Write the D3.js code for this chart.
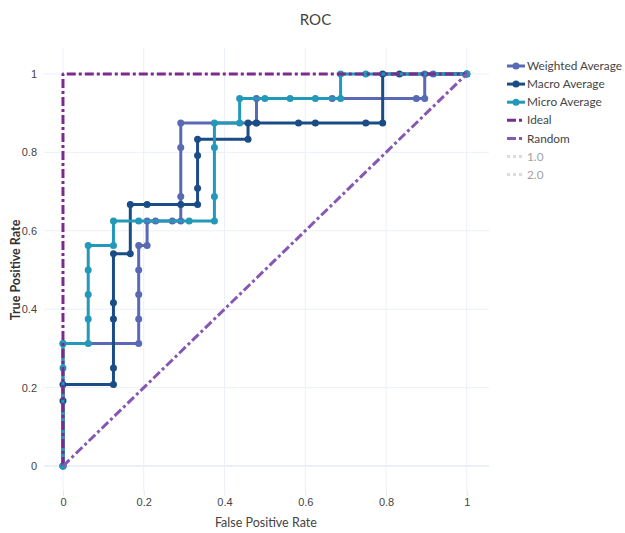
<!DOCTYPE html>
<html>
<head>
<meta charset="utf-8">
<script src="https://cdn.jsdelivr.net/npm/d3@7.9.0/dist/d3.min.js"></script>
<style>
  body { margin: 0; background: #fff; }
  svg { font-family: Lato, 'Open Sans', sans-serif; }
</style>
</head>
<body>
<div id="chart"></div>
<script>
// ROC curve points
const weightedFpr = [0, 0, 0.1875, 0.1875, 0.1875, 0.1875, 0.1875, 0.2083, 0.2083, 0.2292, 0.2708, 0.2917, 0.2917, 0.2917, 0.2917, 0.4792, 0.4792, 0.6667, 0.875, 0.8958, 0.8958, 0.9167, 1];
const weightedTpr = [0, 0.3125, 0.3125, 0.375, 0.4375, 0.5, 0.5625, 0.5625, 0.625, 0.625, 0.625, 0.625, 0.6875, 0.8125, 0.875, 0.875, 0.9375, 0.9375, 0.9375, 0.9375, 1, 1, 1];

const macroFpr = [0, 0, 0, 0.125, 0.125, 0.125, 0.125, 0.125, 0.1667, 0.1667, 0.2083, 0.2917, 0.3333, 0.3333, 0.3333, 0.3333, 0.4583, 0.4583, 0.4792, 0.5833, 0.625, 0.75, 0.7917, 0.7917, 0.8333, 1];
const macroTpr = [0, 0.1667, 0.2083, 0.2083, 0.25, 0.375, 0.4167, 0.5417, 0.5417, 0.6667, 0.6667, 0.6667, 0.6667, 0.7083, 0.7917, 0.8333, 0.8333, 0.875, 0.875, 0.875, 0.875, 0.875, 0.875, 1, 1, 1];

const microFpr = [0, 0, 0, 0.0625, 0.0625, 0.0625, 0.0625, 0.0625, 0.125, 0.125, 0.1875, 0.3125, 0.375, 0.375, 0.375, 0.375, 0.4375, 0.4375, 0.5, 0.5625, 0.625, 0.6875, 0.6875, 0.75, 1];
const microTpr = [0, 0.25, 0.3125, 0.3125, 0.375, 0.4375, 0.5, 0.5625, 0.5625, 0.625, 0.625, 0.625, 0.625, 0.6875, 0.8125, 0.875, 0.875, 0.9375, 0.9375, 0.9375, 0.9375, 0.9375, 1, 1, 1];

const idealFpr = [0, 0, 1];
const idealTpr = [0, 1, 1];
const randomFpr = [0, 1];
const randomTpr = [0, 1];

const legendNames = ['Weighted Average', 'Macro Average', 'Micro Average', 'Ideal', 'Random', '1.0', '2.0'];
const tickValues = [0, 0.2, 0.4, 0.6, 0.8, 1];

const toPoints = (xs, ys) => xs.map((x, i) => ({ x, y: ys[i] }));

const series = [
    { name: 'Weighted Average', pts: toPoints(weightedFpr, weightedTpr), color: '#5a69b5', dash: null, markers: true },
    { name: 'Macro Average', pts: toPoints(macroFpr, macroTpr), color: '#1a4c86', dash: null, markers: true },
    { name: 'Micro Average', pts: toPoints(microFpr, microTpr), color: '#2299b8', dash: null, markers: true },
    { name: 'Ideal', pts: toPoints(idealFpr, idealTpr), color: '#7c2a8c', dash: '9,3,3,3', markers: false },
    { name: 'Random', pts: toPoints(randomFpr, randomTpr), color: '#8657b3', dash: '9,3,3,3', markers: false }
];

const width = 625;
const height = 533;
const plot = { left: 44, right: 489, top: 48, bottom: 490 };

const svg = d3.select('#chart')
    .append('svg')
    .attr('width', width)
    .attr('height', height);

const x = d3.scaleLinear().domain([-0.047, 1.055]).range([plot.left, plot.right]);
const y = d3.scaleLinear().domain([-0.061, 1.066]).range([plot.bottom, plot.top]);

// gridlines
const grid = svg.append('g').attr('class', 'grid');
grid.selectAll('line.v')
    .data(tickValues)
    .enter()
    .append('line')
    .attr('class', 'v')
    .attr('x1', d => x(d)).attr('x2', d => x(d))
    .attr('y1', plot.top).attr('y2', plot.bottom)
    .attr('stroke', '#ebf0f8')
    .attr('stroke-width', 1);
grid.selectAll('line.h')
    .data(tickValues)
    .enter()
    .append('line')
    .attr('class', 'h')
    .attr('x1', plot.left).attr('x2', plot.right)
    .attr('y1', d => y(d)).attr('y2', d => y(d))
    .attr('stroke', '#ebf0f8')
    .attr('stroke-width', d => d === 0 ? 2 : 1);

// x axis
const xAxis = svg.append('g')
    .attr('transform', `translate(0, ${plot.bottom})`)
    .call(d3.axisBottom(x).tickValues(tickValues).tickFormat(d3.format('~g')).tickSize(6).tickPadding(2));
xAxis.select('.domain').remove();
xAxis.selectAll('.tick line').attr('stroke', '#e3e9f3');
xAxis.selectAll('.tick text').attr('fill', '#444').attr('font-size', '11px');

// y axis
const yAxis = svg.append('g')
    .attr('transform', `translate(${plot.left}, 0)`)
    .call(d3.axisLeft(y).tickValues(tickValues).tickFormat(d3.format('~g')).tickSize(0).tickPadding(7));
yAxis.select('.domain').remove();
yAxis.selectAll('.tick text').attr('fill', '#444').attr('font-size', '11px');

svg.append('text')
    .attr('x', (x(0) + x(1)) / 2 + 1)
    .attr('y', 527)
    .attr('text-anchor', 'middle')
    .attr('font-size', '12.5px')
    .attr('fill', '#444')
    .text('False Positive Rate');

svg.append('text')
    .attr('transform', `translate(20, ${(y(0) + y(1)) / 2}) rotate(-90)`)
    .attr('text-anchor', 'middle')
    .attr('font-size', '12.5px')
    .attr('font-weight', 700)
    .attr('fill', '#333')
    .text('True Positive Rate');

svg.append('text')
    .attr('x', width / 2 + 3)
    .attr('y', 25)
    .attr('text-anchor', 'middle')
    .attr('font-size', '15px')
    .attr('fill', '#444')
    .text('ROC');

// curves
const line = d3.line().x(d => x(d.x)).y(d => y(d.y));
const traces = svg.append('g').attr('class', 'traces');

series.forEach(s => {
    const g = traces.append('g');
    g.append('path')
        .datum(s.pts)
        .attr('d', line)
        .attr('fill', 'none')
        .attr('stroke', s.color)
        .attr('stroke-width', 3)
        .attr('stroke-dasharray', s.dash)
        .attr('stroke-linejoin', 'round');
    if (s.markers) {
        g.selectAll('circle')
            .data(s.pts)
            .enter()
            .append('circle')
            .attr('cx', d => x(d.x))
            .attr('cy', d => y(d.y))
            .attr('r', 3.5)
            .attr('fill', s.color);
    }
});

// legend
const legend = svg.append('g')
    .attr('class', 'legend')
    .attr('transform', 'translate(507, 66)');

const legendItem = legend.selectAll('.legend-item')
    .data(legendNames)
    .enter()
    .append('g')
    .attr('class', 'legend-item')
    .attr('transform', (d, i) => `translate(0, ${i * 18.1})`)
    .attr('opacity', (d, i) => i < series.length ? 1 : 0.5);

legendItem.append('line')
    .attr('x1', 0).attr('x2', 18)
    .attr('y1', 0).attr('y2', 0)
    .attr('stroke', (d, i) => i < series.length ? series[i].color : '#bbb')
    .attr('stroke-width', 3)
    .attr('stroke-dasharray', (d, i) => i < series.length ? series[i].dash : '3,3');

legendItem.filter((d, i) => i < series.length && series[i].markers)
    .append('circle')
    .attr('cx', 9)
    .attr('cy', 0)
    .attr('r', 3.5)
    .attr('fill', (d, i) => series[i].color);

legendItem.append('text')
    .attr('x', 20)
    .attr('y', 0)
    .attr('dy', '0.35em')
    .attr('font-size', '11.8px')
    .attr('fill', '#444')
    .text(d => d);
</script>
</body>
</html>
